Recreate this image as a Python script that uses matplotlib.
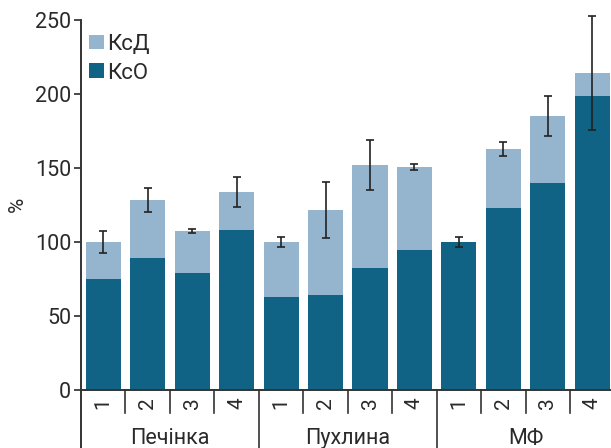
import numpy as np
import matplotlib.pyplot as plt

plt.rcParams['font.family'] = ['Roboto', 'DejaVu Sans']

groups = ['Печінка', 'Пухлина', 'МФ']
sub_labels = ['1', '2', '3', '4']
# total height of each bar (КсО + КсД) and the КсО part
total = [100, 128.3, 107.4, 133.7,
         100, 121.5, 151.9, 150.6,
         100, 162.7, 185.0, 214.0]
kso = [75, 89.1, 79, 108,
       62.8, 64.1, 82.4, 94.5,
       100, 122.9, 139.8, 198.5]
err = [7.2, 7.8, 1.4, 10.3,
       3.5, 19.1, 16.9, 1.9,
       3.3, 4.4, 13.2, 38.2]

c_light = '#95b5ce'
c_dark = '#106385'
txt = '#2a2a2a'

ksd = np.array(total) - np.array(kso)
x = np.arange(len(total))

fig = plt.figure(figsize=(6.11, 4.48), dpi=100)
ax = fig.add_axes([81/611, 58/448, 530/611, 370.3/448])

ax.bar(x, kso, width=0.79, color=c_dark, label='КсО', zorder=2)
ax.bar(x, ksd, width=0.79, bottom=kso, color=c_light, label='КсД', zorder=2)
ax.errorbar(x, total, yerr=err, fmt='none', ecolor='#222222', elinewidth=1.2,
            capsize=3, capthick=1.2, clip_on=False, zorder=3)

ax.set_xlim(-0.5, 11.42)
ax.set_ylim(0, 250)
ax.set_yticks([0, 50, 100, 150, 200, 250])
ax.tick_params(axis='y', labelsize=15.5, colors=txt, length=5, width=1.2, pad=2)
ax.set_xticks([])
for s in ['top', 'right']:
    ax.spines[s].set_visible(False)
ax.spines['left'].set_visible(False)
ax.spines['bottom'].set_color('#333333')
ax.spines['bottom'].set_linewidth(1.4)

tr = ax.get_xaxis_transform()
# left axis line running down through the label area
ax.plot([-0.5, -0.5], [-0.16, 1.0], transform=tr, color='#333333', lw=1.4, clip_on=False)
for i in range(len(x) - 1):
    b = i + 0.5
    low = -0.16 if (i + 1) % 4 == 0 else -0.062
    ax.plot([b, b], [0, low], transform=tr, color='#333333', lw=1.2, clip_on=False)

for i in x:
    ax.text(i, -0.035, sub_labels[i % 4], transform=tr, rotation=90,
            ha='center', va='center', fontsize=15, color=txt)
for g, name in enumerate(groups):
    ax.text(g * 4 + 1.5, -0.13, name, transform=tr, ha='center', va='center',
            fontsize=15.5, color=txt)

ax.set_ylabel('%', fontsize=15, color=txt, labelpad=6)

h, l = ax.get_legend_handles_labels()
ax.legend(h[::-1], l[::-1], loc='upper left', bbox_to_anchor=(-0.018, 1.01),
          frameon=False, fontsize=16, handlelength=0.65, handleheight=0.65,
          handletextpad=0.15, labelspacing=0.35, borderaxespad=0.4,
          labelcolor=txt)

fig.savefig('out.png', dpi=100)
